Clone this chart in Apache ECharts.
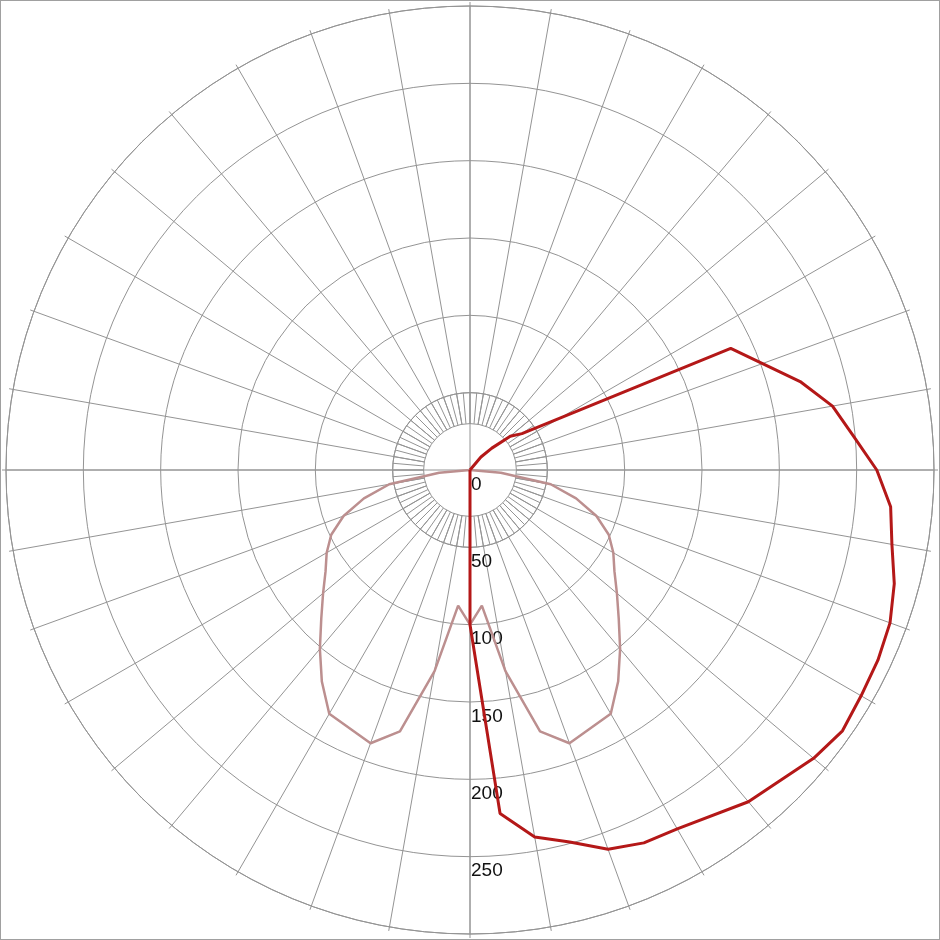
<!DOCTYPE html>
<html>
<head>
<meta charset="utf-8">
<script src="https://cdn.jsdelivr.net/npm/echarts@6/dist/echarts.min.js"></script>
<style>
  html, body { margin: 0; padding: 0; background: #fff; }
  #chart { width: 940px; height: 940px; box-sizing: border-box; border: 1px solid #a0a0a0; }
</style>
</head>
<body>
<div id="chart"></div>
<script>
// Angles in degrees measured from nadir (straight down); positive = right side, negative = left side.
// Red curve (asymmetric plane)
const redAngles = [-5, 0, 5, 10, 15, 20, 25, 30, 40, 50, 55, 60, 65, 70, 75, 80, 85, 90, 95, 100, 105, 115, 125, 130, 135, 140, 150];
const redValues = [0, 100, 223, 241, 249, 261, 266, 268, 280, 290, 294, 292, 291, 289, 284, 277, 273, 263, 249, 238, 221, 186, 41, 34, 20, 11, 0];

// Pink curve (symmetric plane)
const pinkAngles = [-90, -85, -80, -75, -70, -65, -60, -55, -50, -45, -40, -35, -30, -20, -15, -10, -5, 0, 5, 10, 15, 20, 30, 35, 40, 45, 50, 55, 60, 65, 70, 75, 80, 85, 90];
const pinkValues = [0, 20, 53, 71, 87, 99, 107, 114, 124, 136, 151, 167, 182, 188, 175, 132, 88, 100, 88, 132, 175, 188, 182, 167, 151, 136, 124, 114, 107, 99, 87, 71, 53, 20, 0];

// Radius tick labels
const radiusTicks = [0, 50, 100, 150, 200, 250];
const radiusTickLabels = ['0', '50', '100', '150', '200', '250'];
const radiusMax = 300;

const R = 464;
const gridColor = '#949494';

function toPolar(angles, values) {
  return angles.map((a, i) => [values[i], (a + 360) % 360]);
}

const chart = echarts.init(document.getElementById('chart'), null, { renderer: 'canvas' });
chart.setOption({
  animation: false,
  backgroundColor: '#ffffff',
  polar: [
    { center: ['50%', '50%'], radius: [0, R] },
    { center: ['50%', '50%'], radius: [R * 30 / radiusMax, R] },
    { center: ['50%', '50%'], radius: [R * 30 / radiusMax, R * 50 / radiusMax] }
  ],
  angleAxis: [
    {
      polarIndex: 0, type: 'value', min: 0, max: 360, interval: 90,
      startAngle: 270, clockwise: false,
      axisLine: { show: true, lineStyle: { color: gridColor, width: 1 } },
      axisTick: { show: false }, axisLabel: { show: false },
      splitLine: { show: true, lineStyle: { color: gridColor, width: 1 } }
    },
    {
      polarIndex: 1, type: 'value', min: 0, max: 360, interval: 10,
      startAngle: 270, clockwise: false,
      axisLine: { show: false },
      axisTick: { show: true, length: 4, lineStyle: { color: gridColor, width: 1 } },
      axisLabel: { show: false },
      splitLine: { show: true, lineStyle: { color: gridColor, width: 1 } }
    },
    {
      polarIndex: 2, type: 'value', min: 0, max: 360, interval: 5,
      startAngle: 270, clockwise: false,
      axisLine: { show: false }, axisTick: { show: false }, axisLabel: { show: false },
      splitLine: { show: true, lineStyle: { color: gridColor, width: 1 } }
    }
  ],
  radiusAxis: [
    {
      polarIndex: 0, type: 'value', min: 0, max: radiusMax, interval: 50,
      axisLine: { show: false }, axisTick: { show: false },
      splitLine: { show: true, lineStyle: { color: gridColor, width: 1 } },
      axisLabel: {
        show: true,
        formatter: function (v) {
          const i = radiusTicks.indexOf(v);
          return i >= 0 ? radiusTickLabels[i] : '';
        },
        color: '#111111', fontSize: 19, fontFamily: 'Liberation Sans, Arial, sans-serif',
        align: 'left', verticalAlign: 'top', margin: 1,
        padding: [5, 0, 0, 0]
      }
    },
    {
      polarIndex: 1, type: 'value', min: 30, max: radiusMax,
      axisLine: { show: false }, axisTick: { show: false }, axisLabel: { show: false },
      splitLine: { show: false }
    },
    {
      polarIndex: 2, type: 'value', min: 30, max: 50, interval: 20,
      axisLine: { show: false }, axisTick: { show: false }, axisLabel: { show: false },
      splitLine: { show: true, lineStyle: { color: gridColor, width: 1 } }
    }
  ],
  series: [
    {
      type: 'line', coordinateSystem: 'polar', polarIndex: 0,
      data: toPolar(pinkAngles, pinkValues),
      showSymbol: false, symbol: 'none', smooth: false,
      lineStyle: { color: '#bc8f8f', width: 2.5 }, z: 3
    },
    {
      type: 'line', coordinateSystem: 'polar', polarIndex: 0,
      data: toPolar(redAngles, redValues),
      showSymbol: false, symbol: 'none', smooth: false,
      lineStyle: { color: '#b41818', width: 3 }, z: 4
    }
  ]
});
</script>
</body>
</html>
